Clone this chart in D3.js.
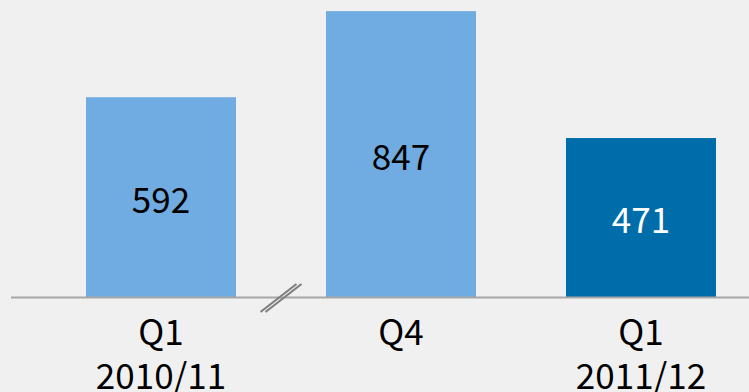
<!DOCTYPE html>
<html>
<head>
<meta charset="utf-8">
<script src="https://d3js.org/d3.v7.min.js"></script>
<style>
  html, body { margin: 0; padding: 0; background: #f0f0f0; }
  svg { display: block; }
  text { font-family: "Noto Sans CJK JP", "Noto Sans", sans-serif; font-weight: 400; }
</style>
</head>
<body>
<svg id="chart" width="749" height="392"></svg>
<script>

// quarter labels (two lines each) and values
var quarters = ["Q1", "Q4", "Q1"];
var years = ["2010/11", "", "2011/12"];
var values = [592, 847, 471];
var colors = ["#70ace1", "#70ace1", "#006dab"];
var labelColors = ["#000", "#000", "#fff"];

var svg = d3.select("#chart"),
    width = +svg.attr("width"),
    baseY = 297;

var x = d3.scaleBand()
    .domain(d3.range(values.length))
    .range([41, 761])
    .paddingInner(0.375)
    .paddingOuter(0.1875);

var y = d3.scaleLinear()
    .domain([0, 880])
    .range([baseY, 0]);

// bars
svg.selectAll("rect.bar")
    .data(values)
  .enter().append("rect")
    .attr("class", "bar")
    .attr("x", function(d, i) { return x(i); })
    .attr("y", function(d) { return y(d); })
    .attr("width", x.bandwidth())
    .attr("height", function(d) { return y(0) - y(d); })
    .attr("fill", function(d, i) { return colors[i]; });

// baseline
svg.append("line")
    .attr("x1", 11)
    .attr("x2", width)
    .attr("y1", y(0) + 0.5)
    .attr("y2", y(0) + 0.5)
    .attr("stroke", "#a6a6a6")
    .attr("stroke-width", 2);

// axis break marks between first and second bar
var bx = (x(0) + x.bandwidth() + x(1)) / 2;
[-2.5, 2.5].forEach(function(o) {
  svg.append("line")
      .attr("x1", bx - 18 + o)
      .attr("y1", y(0) + 15)
      .attr("x2", bx + 18 + o)
      .attr("y2", y(0) - 13)
      .attr("stroke", "#808080")
      .attr("stroke-width", 2.2);
});

// value labels
svg.selectAll("text.val")
    .data(values)
  .enter().append("text")
    .attr("class", "val")
    .attr("x", function(d, i) { return x(i) + x.bandwidth() / 2; })
    .attr("y", function(d) { return (y(d) + y(0)) / 2 + 3; })
    .attr("dy", "0.36em")
    .attr("text-anchor", "middle")
    .attr("font-size", 35)
    .attr("fill", function(d, i) { return labelColors[i]; })
    .text(function(d) { return d; });

// category labels
var cat = svg.selectAll("g.cat")
    .data(quarters)
  .enter().append("g")
    .attr("class", "cat")
    .attr("transform", function(d, i) { return "translate(" + (x(i) + x.bandwidth() / 2) + ",0)"; });

cat.append("text")
    .attr("y", 345)
    .attr("text-anchor", "middle")
    .attr("font-size", 35)
    .attr("fill", "#000")
    .text(function(d) { return d; });

cat.append("text")
    .attr("y", 389)
    .attr("text-anchor", "middle")
    .attr("font-size", 35)
    .attr("fill", "#000")
    .text(function(d, i) { return years[i]; });

</script>
</body>
</html>
